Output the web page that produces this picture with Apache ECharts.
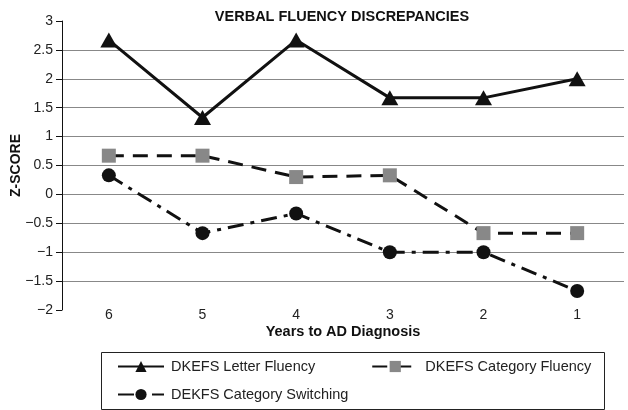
<!DOCTYPE html>
<html>
<head>
<meta charset="utf-8">
<script src="https://cdn.jsdelivr.net/npm/echarts@6/dist/echarts.min.js"></script>
<style>html,body{margin:0;padding:0;background:#fff;}#c{width:628px;height:410px;}</style>
</head>
<body>
<div id="c"></div>
<script>
const categories = ['6', '5', '4', '3', '2', '1'];
const letterFluency = [2.67, 1.33, 2.67, 1.67, 1.67, 2.0];
const categoryFluency = [0.67, 0.67, 0.3, 0.33, -0.67, -0.67];
const categorySwitching = [0.33, -0.67, -0.33, -1.0, -1.0, -1.67];
const seriesNames = ['DKEFS Letter Fluency', 'DKEFS Category Fluency', 'DEKFS Category Switching'];

const FONT = '"Liberation Sans", Arial, sans-serif';
const chart = echarts.init(document.getElementById('c'), null, {renderer: 'canvas'});
chart.setOption({
  animation: false,
  backgroundColor: '#fff',
  title: {
    text: 'VERBAL FLUENCY DISCREPANCIES',
    left: 337, textAlign: 'center', top: 4,
    textStyle: {fontFamily: FONT, fontSize: 14.5, fontWeight: 'bold', color: '#111'}
  },
  grid: {left: 62, right: 4, top: 21, bottom: 100, containLabel: false, outerBoundsMode: 'none'},
  xAxis: {
    type: 'category', data: categories, boundaryGap: true,
    name: 'Years to AD Diagnosis', nameLocation: 'middle', nameGap: 14, nameMoveOverlap: false,
    nameTextStyle: {fontFamily: FONT, fontSize: 14.5, fontWeight: 'bold', color: '#111'},
    axisLine: {show: false}, axisTick: {show: false},
    axisLabel: {fontFamily: FONT, fontSize: 14, color: '#222', margin: -2},
    splitLine: {show: false}
  },
  yAxis: {
    type: 'value', min: -2, max: 3, interval: 0.5,
    name: 'Z-SCORE', nameLocation: 'middle', nameGap: 39, nameRotate: 90, nameMoveOverlap: false,
    nameTextStyle: {fontFamily: FONT, fontSize: 14, fontWeight: 'bold', color: '#111'},
    axisLine: {show: true, lineStyle: {color: '#111', width: 1}},
    axisTick: {show: true, length: 6, lineStyle: {color: '#111'}},
    axisLabel: {fontFamily: FONT, fontSize: 14, color: '#222', margin: 9,
      formatter: v => (v < 0 ? '\u2212' + Math.abs(v) : String(v))},
    splitLine: {show: true, showMinLine: false, showMaxLine: false, lineStyle: {color: '#888', width: 1}}
  },
  legend: [{
    data: [seriesNames[0], seriesNames[1]],
    left: 112, top: 354, itemWidth: 46, itemHeight: 14, itemGap: 56,
    textStyle: {fontFamily: FONT, fontSize: 14.5, color: '#222', padding: [0, 0, 0, 2]}
  }, {
    data: [seriesNames[2]],
    left: 112, top: 382, itemWidth: 46, itemHeight: 14,
    textStyle: {fontFamily: FONT, fontSize: 14.5, color: '#222', padding: [0, 0, 0, 2]}
  }],
  graphic: [{
    type: 'rect', left: 99, top: 350,
    shape: {width: 503, height: 57},
    style: {fill: 'none', stroke: '#222', lineWidth: 1}
  }],
  series: [{
    name: seriesNames[0], type: 'line', data: letterFluency,
    symbol: 'triangle', symbolSize: [17, 15],
    itemStyle: {color: '#111'},
    lineStyle: {color: '#111', width: 3, type: 'solid'}
  }, {
    name: seriesNames[1], type: 'line', data: categoryFluency,
    symbol: 'rect', symbolSize: 14,
    itemStyle: {color: '#888'},
    lineStyle: {color: '#111', width: 3, type: [15, 9]}
  }, {
    name: seriesNames[2], type: 'line', data: categorySwitching,
    symbol: 'circle', symbolSize: 14,
    itemStyle: {color: '#111'},
    lineStyle: {color: '#111', width: 3, type: [16, 7, 4, 7]}
  }]
});
</script>
</body>
</html>
